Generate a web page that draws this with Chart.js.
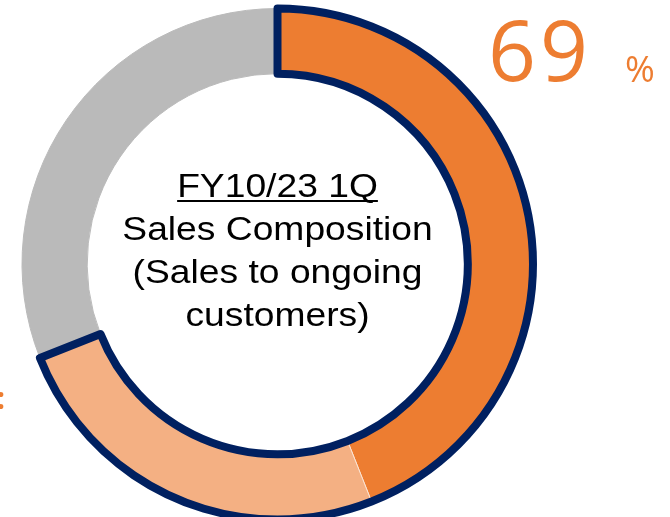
<!DOCTYPE html>
<html>
<head>
<meta charset="utf-8">
<script src="https://cdn.jsdelivr.net/npm/chart.js@4.4.0/dist/chart.umd.min.js"></script>
<style>
  html, body { margin: 0; padding: 0; background: #ffffff; overflow: hidden; }
  #wrap { position: absolute; left: 0; top: 0; width: 670px; height: 540px; }
</style>
</head>
<body>
<div id="wrap"><canvas id="donut"></canvas></div>
<script>
  // ── Data ──
  var segments = ['Sales to ongoing customers', 'Sales to ongoing customers (other)', 'Other'];
  var shares = [44, 25, 31];
  var segmentColors = ['#ED7D31', '#F4B083', '#BABABA'];
  var segmentEdges = ['#fbe3d2', '#fbe3d2', '#BABABA'];
  var titleLines = ['FY10/23 1Q', 'Sales Composition', '(Sales to ongoing', 'customers)'];
  var headline = '69';
  var headlineUnit = '%';

  var navy = '#002060';
  var orange = '#ED7D31';

  // outline around the first two arcs (orange + light orange) as one band
  var outlinePlugin = {
    id: 'outline',
    afterDatasetsDraw: function (chart) {
      var meta = chart.getDatasetMeta(0);
      var a = meta.data[0], b = meta.data[1];
      if (!a || !b) return;
      var ctx = chart.ctx;
      ctx.save();
      ctx.beginPath();
      ctx.arc(a.x, a.y, a.outerRadius, a.startAngle, b.endAngle, false);
      ctx.arc(a.x, a.y, a.innerRadius, b.endAngle, a.startAngle, true);
      ctx.closePath();
      ctx.lineWidth = 8;
      ctx.lineJoin = 'round';
      ctx.strokeStyle = navy;
      ctx.stroke();
      ctx.restore();
    }
  };

  // centre title + big percentage
  var textPlugin = {
    id: 'texts',
    afterDraw: function (chart) {
      var ctx = chart.ctx;
      var el = chart.getDatasetMeta(0).data[0];
      var cx = el.x;
      ctx.save();
      // title text is a little wider than plain Arial, so stretch it
      ctx.translate(cx, 0);
      ctx.scale(1.095, 1);
      ctx.fillStyle = '#000000';
      ctx.textAlign = 'center';
      ctx.textBaseline = 'alphabetic';
      ctx.font = "34px 'Liberation Sans', Arial, sans-serif";
      var base = 197;
      for (var i = 0; i < titleLines.length; i++) {
        ctx.fillText(titleLines[i], 0, base + i * 43);
      }
      // underline first line
      var w = ctx.measureText(titleLines[0]).width;
      ctx.fillRect(-w / 2, base + 3, w, 2);
      ctx.restore();

      ctx.save();
      ctx.fillStyle = orange;
      ctx.textAlign = 'left';
      ctx.letterSpacing = '4px';
      ctx.font = "84px 'Open Sans', 'Noto Sans', sans-serif";
      ctx.fillText(headline, 488, 81);
      ctx.letterSpacing = '0px';
      ctx.font = "36px 'Open Sans', 'Noto Sans', sans-serif";
      ctx.fillText(headlineUnit, 625, 82);
      // cropped label edge at the left
      ctx.font = "bold 30px 'Open Sans', sans-serif";
      ctx.textAlign = 'right';
      ctx.fillText(':', 5, 409);
      ctx.restore();
    }
  };

  new Chart(document.getElementById('donut').getContext('2d'), {
    type: 'doughnut',
    data: {
      labels: segments,
      datasets: [{
        data: shares,
        backgroundColor: segmentColors,
        borderColor: segmentEdges,
        borderWidth: 1,
        hoverOffset: 0
      }]
    },
    options: {
      responsive: true,
      maintainAspectRatio: false,
      animation: false,
      cutout: '74.5%',
      layout: { padding: { left: 21.5, top: 8, right: 136.5, bottom: 20 } },
      plugins: {
        legend: { display: false },
        tooltip: { enabled: false }
      }
    },
    plugins: [outlinePlugin, textPlugin]
  });
</script>
</body>
</html>
